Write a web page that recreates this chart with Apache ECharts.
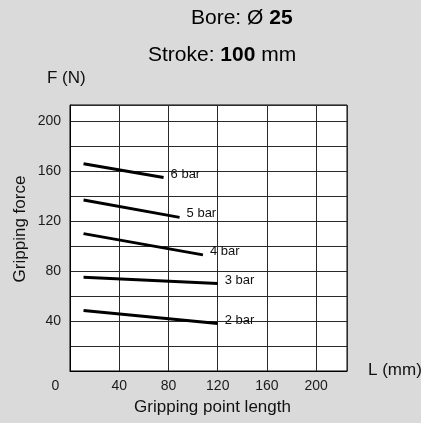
<!DOCTYPE html>
<html>
<head>
<meta charset="utf-8">
<script src="https://cdn.jsdelivr.net/npm/echarts@6/dist/echarts.min.js"></script>
<style>
  html, body { margin: 0; padding: 0; background: #dadada; }
  #chart { width: 421px; height: 423px; }
</style>
</head>
<body>
<div id="chart"></div>
<script>
// Gripping force vs. gripping point length, one line per supply pressure
const pressures = ['2 bar', '3 bar', '4 bar', '5 bar', '6 bar'];
const bar2 = [[11, 48.5], [120, 38]];
const bar3 = [[11, 75], [120, 70]];
const bar4 = [[11, 110], [108, 93]];
const bar5 = [[11, 137], [89, 123]];
const bar6 = [[11, 166], [76, 155]];
const lines = [bar2, bar3, bar4, bar5, bar6];

const xTicks = [0, 40, 80, 120, 160, 200];
const yTicks = [40, 80, 120, 160, 200];

const FONT = "'Liberation Sans', Arial, sans-serif";

const chart = echarts.init(document.getElementById('chart'));

chart.setOption({
  backgroundColor: '#dadada',
  animation: false,
  grid: {
    left: 70, right: 74, top: 105, bottom: 52,
    show: true, backgroundColor: '#ffffff', borderColor: '#000', borderWidth: 1
  },
  xAxis: {
    type: 'value', min: 0, max: 225, interval: 40,
    axisLine: { show: true, lineStyle: { color: '#000', width: 1 } },
    axisTick: { show: false },
    splitLine: {
      show: true,
      lineStyle: { color: '#2a2a2a', width: 1 }
    },
    axisLabel: {
      margin: 8,
      fontFamily: FONT, fontSize: 14, color: '#1a1a1a',
      showMaxLabel: false,
      formatter: v => {
        if (!xTicks.includes(v)) return '';
        return v === 0 ? '{corner|0}' : String(v);
      },
      rich: {
        corner: { fontFamily: FONT, fontSize: 14, color: '#1a1a1a', padding: [0, 29, 0, 0] }
      }
    }
  },
  yAxis: {
    type: 'value', min: 0, max: 213, interval: 20,
    axisLine: { show: true, lineStyle: { color: '#000', width: 1 } },
    axisTick: { show: false },
    splitLine: { show: true, lineStyle: { color: '#2a2a2a', width: 1 } },
    axisLabel: {
      margin: 9,
      fontFamily: FONT, fontSize: 14, color: '#1a1a1a',
      showMaxLabel: false,
      formatter: v => (yTicks.includes(v) ? String(v) : '')
    }
  },
  series: lines.map((pts, i) => ({
    name: pressures[i],
    type: 'line',
    data: pts,
    symbol: 'none',
    lineStyle: { color: '#000', width: 3, cap: 'butt' },
    endLabel: {
      show: true,
      formatter: '{a}',
      distance: 7,
      offset: [0, -3.5],
      fontFamily: FONT,
      fontSize: 13,
      color: '#111'
    }
  })),
  graphic: [
    {
      type: 'text', x: 191, y: 18,
      style: {
        text: '{n|Bore: Ø }{b|25}',
        verticalAlign: 'middle',
        rich: {
          n: { fontFamily: FONT, fontSize: 21, fill: '#000' },
          b: { fontFamily: FONT, fontSize: 21, fontWeight: 'bold', fill: '#000' }
        }
      }
    },
    {
      type: 'text', x: 148, y: 55,
      style: {
        text: '{n|Stroke: }{b|100}{n| mm}',
        verticalAlign: 'middle',
        rich: {
          n: { fontFamily: FONT, fontSize: 21, fill: '#000' },
          b: { fontFamily: FONT, fontSize: 21, fontWeight: 'bold', fill: '#000' }
        }
      }
    },
    {
      type: 'text', x: 47, y: 78,
      style: { text: 'F (N)', fontFamily: FONT, fontSize: 17, fill: '#111', verticalAlign: 'middle' }
    },
    {
      type: 'text', x: 368, y: 370,
      style: { text: 'L (mm)', fontFamily: FONT, fontSize: 17, fill: '#111', verticalAlign: 'middle' }
    },
    {
      type: 'text', x: 212.5, y: 407,
      style: { text: 'Gripping point length', fontFamily: FONT, fontSize: 17, fill: '#111', align: 'center', verticalAlign: 'middle' }
    },
    {
      type: 'text', x: 20, y: 229, rotation: Math.PI / 2,
      style: { text: 'Gripping force', fontFamily: FONT, fontSize: 17, fill: '#111', align: 'center', verticalAlign: 'middle' }
    }
  ]
});
</script>
</body>
</html>
